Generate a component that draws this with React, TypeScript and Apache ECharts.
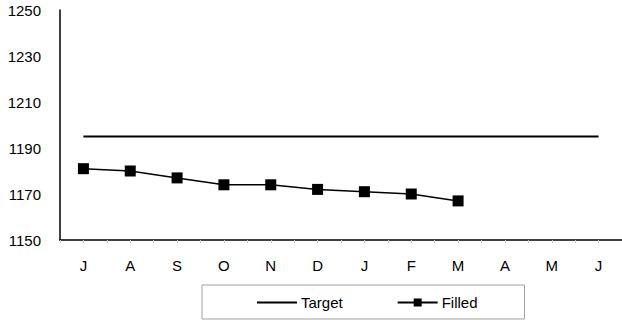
import React, { useEffect, useRef } from "react";
import * as echarts from "echarts";

// Month initials, July through June
const months = ["J", "A", "S", "O", "N", "D", "J", "F", "M", "A", "M", "J"];
// Target level held flat across the year
const target = [1195, 1195, 1195, 1195, 1195, 1195, 1195, 1195, 1195, 1195, 1195, 1195];
// Filled positions reported so far (July–March)
const filled = [1181, 1180, 1177, 1174, 1174, 1172, 1171, 1170, 1167, null, null, null];
// Value axis settings
const yMin = 1150;
const yMax = 1250;
const yStep = 20;

const FONT = "'Liberation Sans', Arial, sans-serif";

export default function App() {
  const ref = useRef<HTMLDivElement>(null);

  useEffect(() => {
    if (!ref.current) return;
    const chart = echarts.init(ref.current, null, { renderer: "svg" });
    chart.setOption({
      animation: false,
      backgroundColor: "#fff",
      textStyle: { fontFamily: FONT },
      grid: { left: 60, top: 10, width: 564, height: 230, containLabel: false },
      legend: {
        left: 202,
        top: 285,
        orient: "horizontal",
        borderColor: "#a0a0a0",
        borderWidth: 1,
        padding: [10, 47, 9, 55],
        itemWidth: 40,
        itemHeight: 10,
        itemGap: 54,
        textStyle: { fontFamily: FONT, fontSize: 15, color: "#000", padding: [0, 0, 0, -1] },
        data: [
          { name: "Target", icon: "path://M0,0L40,0L40,2L0,2Z" },
          { name: "Filled" },
        ],
      },
      xAxis: [
        {
          type: "category",
          data: months,
          boundaryGap: true,
          axisLine: { lineStyle: { color: "#000", width: 1.5 } },
          axisTick: { show: true, alignWithLabel: true, length: 3, lineStyle: { color: "#c8c8c8" } },
          axisLabel: { color: "#000", fontSize: 15, fontFamily: FONT, margin: 18 },
          splitLine: { show: false },
        },
        {
          type: "category",
          data: months,
          boundaryGap: true,
          position: "bottom",
          axisLine: { show: false },
          axisTick: { show: true, length: 3, lineStyle: { color: "#c8c8c8" } },
          axisLabel: { show: false },
          splitLine: { show: false },
        },
      ],
      yAxis: {
        type: "value",
        min: yMin,
        max: yMax,
        interval: yStep,
        axisLine: { show: true, lineStyle: { color: "#000", width: 1.5 } },
        axisTick: { show: false },
        axisLabel: {
          color: "#000",
          fontSize: 15,
          fontFamily: FONT,
          margin: 19,
          formatter: (v: number) => String(v),
        },
        splitLine: { show: false },
      },
      series: [
        {
          name: "Target",
          type: "line",
          data: target,
          symbol: "none",
          lineStyle: { color: "#000", width: 2 },
          itemStyle: { color: "#000" },
        },
        {
          name: "Filled",
          type: "line",
          data: filled,
          symbol: "rect",
          symbolSize: 11,
          lineStyle: { color: "#000", width: 1.5 },
          itemStyle: { color: "#000" },
        },
      ],
    });
    return () => chart.dispose();
  }, []);

  return <div ref={ref} style={{ width: 622, height: 320, position: "absolute", left: 0, top: 0 }} />;
}
